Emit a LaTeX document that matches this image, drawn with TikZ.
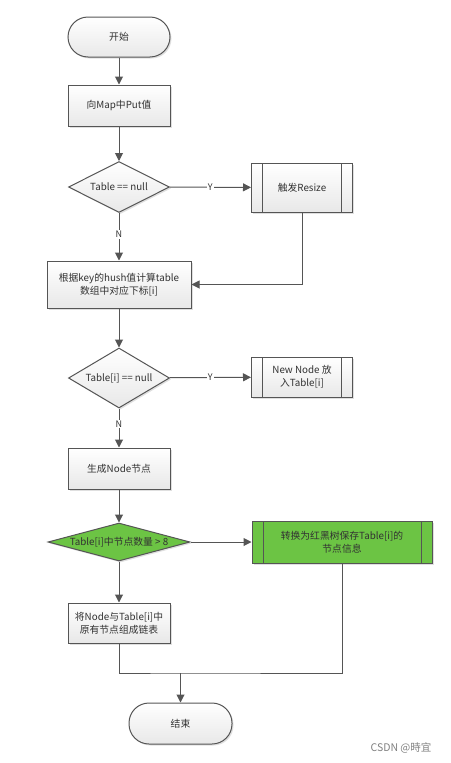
\documentclass[tikz,border=0pt]{standalone}
\usepackage{fontspec}
\setmainfont{Noto Sans CJK SC}
\usepackage{xcolor}
\usepackage{tikz}
\usetikzlibrary{arrows.meta}
\usetikzlibrary{shapes.geometric}
\usetikzlibrary{shadows}
\definecolor{linegray}{RGB}{85,85,85}
\definecolor{textgray}{RGB}{50,50,50}
\definecolor{okgreen}{RGB}{108,196,68}
\tikzset{base/.style = {rectangle, draw=linegray, line width=1pt,
                           top color=white, bottom color=gray!18,
                           drop shadow={shadow xshift=1.5pt, shadow yshift=-1.5pt, opacity=0.25},
                           text=textgray, align=center, inner sep=1pt, font=\fontsize{9.8}{13}\selectfont}}

\begin{document}
\begin{tikzpicture}[x=1pt, y=-1pt, line width=1pt, draw=linegray,
  term/.style = {base, rounded corners=20pt, minimum width=102pt, minimum height=40pt},
  proc/.style = {base, minimum width=102pt, minimum height=41pt},
  sub/.style = {base, minimum width=101pt, minimum height=49pt,
     path picture={\draw[linegray, line width=1pt]
       ([xshift=11pt]path picture bounding box.north west) -- ([xshift=11pt]path picture bounding box.south west)
       ([xshift=-11pt]path picture bounding box.north east) -- ([xshift=-11pt]path picture bounding box.south east);}},
  dec/.style = {base, diamond, inner sep=0pt},
  flow/.style = {draw=linegray, -{Triangle[length=8pt, width=8pt]}},
  yn/.style = {fill=white, inner sep=1pt, text=textgray, font=\fontsize{9}{10}\selectfont}]
\useasboundingbox (0,0) rectangle (450,763);
\node[term] (start) at (119,37) {开始};
\node[proc] (put) at (119,105.5) {向Map中Put值};
\node[dec, aspect=2, minimum width=101pt, minimum height=51pt] (nulltab) at (119,187) {Table == null};
\node[sub] (resize) at (302,187.5) {触发Resize};
\node[proc, minimum width=144pt, minimum height=47pt] (index) at (119,284.5) {根据key的hush值计算table\\数组中对应下标[i]};
\node[dec, aspect=1.7, minimum width=101pt, minimum height=60pt] (nullslot) at (119,378) {Table[i] == null};
\node[sub, minimum height=40pt] (newnode) at (302,377) {New Node 放\\入Table[i]};
\node[proc] (mknode) at (119,468.5) {生成Node节点};
\node[dec, aspect=3.7, minimum width=142pt, minimum height=38pt, top color=okgreen, bottom color=okgreen] (count) at (119,542) {Table[i]中节点数量 > 8};
\node[sub, minimum width=180pt, minimum height=42pt, top color=okgreen, bottom color=okgreen] (tree) at (342,542) {转换为红黑树保存Table[i]的\\节点信息};
\node[proc, minimum height=40pt] (link) at (119,623) {将Node与Table[i]中\\原有节点组成链表};
\node[term, minimum width=103pt, minimum height=41pt] (stop) at (180.5,723.5) {结束};
\coordinate (join) at (180.5,673);
\node[text=gray, font=\fontsize{10.5}{11}\selectfont] (mark) at (401,748) {CSDN @時宜};
% connectors
\draw[flow] (start) -- (put);
\draw[flow] (put) -- (nulltab);
\draw[flow] (nulltab) -- node[yn] {Y} (resize);
\draw[flow] (nulltab) -- node[yn, pos=0.45] {N} (index);
\draw[flow] (resize.south) |- (index.east);
\draw[flow] (index) -- (nullslot);
\draw[flow] (nullslot) -- node[yn] {Y} (newnode);
\draw[flow] (nullslot) -- node[yn, pos=0.4] {N} (mknode);
\draw[flow] (mknode) -- (count);
\draw[flow] (count) -- (tree);
\draw[flow] (count) -- (link);
\draw (link.south) |- (join) -| (tree.south);
\draw[flow] (join) -- (stop);
\end{tikzpicture}
\end{document}
